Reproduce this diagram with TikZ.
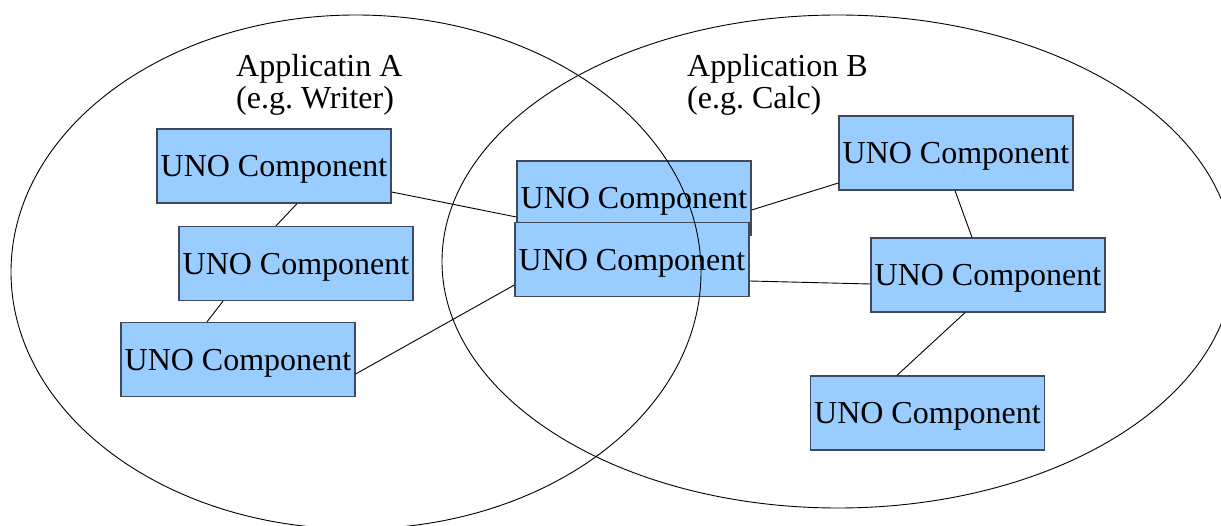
\documentclass[tikz,border=0pt]{standalone}
\usepackage{fontspec}
\setmainfont{Liberation Serif}
\frenchspacing
\definecolor{unofill}{HTML}{99CCFF}
\definecolor{unoedge}{HTML}{3E4A5C}
\begin{document}
\begin{tikzpicture}[x=1pt,y=-1pt,
  unobox/.style={draw=unoedge,line width=1.3pt,fill=unofill,
    minimum width=234pt,minimum height=74pt,inner sep=0pt,
    text depth=0pt,font=\fontsize{32}{32}\selectfont},
  applabel/.style={anchor=north west,inner sep=0pt,align=left,
    font=\fontsize{32}{32}\selectfont},
  link/.style={draw=black,line width=0.9pt},
  appborder/.style={draw=black,line width=0.9pt}]
\useasboundingbox (0,0) rectangle (1221,526);
\clip (0,0) rectangle (1221,526);

% application titles
\node[applabel] (labA) at (236,54) {Applicatin A\\(e.g. Writer)};
\node[applabel] (labB) at (687,54) {Application B\\(e.g. Calc)};

% components of application A
\node[unobox] (L1) at (274,166) {UNO Component};
\node[unobox] (L2) at (296,263.5) {UNO Component};
\node[unobox] (L3) at (238,359.5) {UNO Component};

% shared components
\node[unobox] (T) at (634,198) {UNO Component};
\node[unobox] (M) at (632,259.5) {UNO Component};

% components of application B
\node[unobox] (R1) at (956,153) {UNO Component};
\node[unobox] (R2) at (988,275) {UNO Component};
\node[unobox] (R3) at (927.5,413) {UNO Component};

% connections
\draw[link] ([yshift=-26pt]L1.east) -- ([yshift=-19pt]T.west);
\draw[link] ([xshift=23pt]L1.south) -- ([xshift=-20pt]L2.north);
\draw[link] ([xshift=-73pt]L2.south) -- ([xshift=-31pt]L3.north);
\draw[link] ([yshift=-14.5pt]L3.east) -- ([yshift=-25.5pt]M.west);
\draw[link] ([yshift=-12pt]T.east) -- ([yshift=-30pt]R1.west);
\draw[link] ([yshift=-21.5pt]M.east) -- ([yshift=-9pt]R2.west);
\draw[link] ([xshift=-1pt]R1.south) -- ([xshift=-16pt]R2.north);
\draw[link] ([xshift=-23pt]R2.south) -- ([xshift=-30.5pt]R3.north);

% application boundaries
\draw[appborder] (356,272) ellipse [x radius=345pt, y radius=257pt];
\draw[appborder] (838,261.5) ellipse [x radius=396pt, y radius=246.5pt];
\end{tikzpicture}
\end{document}
